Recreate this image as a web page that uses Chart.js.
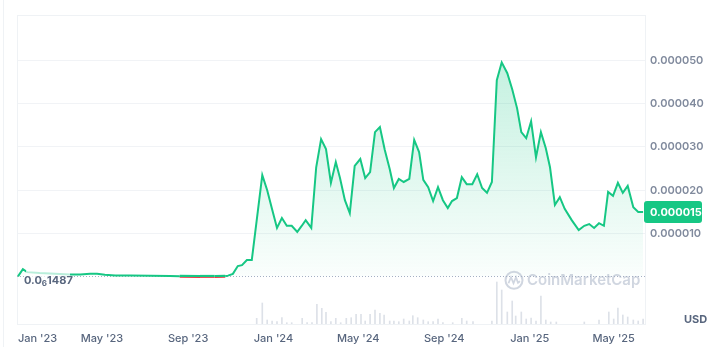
<!DOCTYPE html>
<html lang="en">
<head>
  <meta charset="UTF-8">
  <title>Price chart (USD)</title>
  <script src="https://cdn.jsdelivr.net/npm/chart.js"></script>
  <style>
    html, body { margin: 0; padding: 0; background: #fff; }
  </style>
</head>
<body>
  <canvas id="priceChart" width="723" height="347"></canvas>

  <script>
    // Price, weekly-ish closes
    const priceDates = [
      '2023-01-01', '2023-01-08', '2023-01-14', '2023-02-01', '2023-02-23', '2023-03-16', '2023-03-31',
      '2023-04-14', '2023-04-24', '2023-05-05', '2023-05-20', '2023-06-10', '2023-07-09', '2023-08-06',
      '2023-08-20', '2023-09-18', '2023-10-09', '2023-10-24', '2023-10-28', '2023-11-04', '2023-11-11',
      '2023-11-17', '2023-11-24', '2023-12-01', '2023-12-16', '2023-12-23', '2023-12-30', '2024-01-06',
      '2024-01-13', '2024-01-20', '2024-01-27', '2024-02-04', '2024-02-10', '2024-02-16', '2024-02-24',
      '2024-03-02', '2024-03-09', '2024-03-16', '2024-03-23', '2024-03-30', '2024-04-05', '2024-04-12',
      '2024-04-19', '2024-04-26', '2024-05-04', '2024-05-11', '2024-05-18', '2024-05-25', '2024-06-01',
      '2024-06-08', '2024-06-15', '2024-06-21', '2024-06-28', '2024-07-05', '2024-07-13', '2024-07-20',
      '2024-07-27', '2024-08-02', '2024-08-09', '2024-08-16', '2024-08-23', '2024-08-30', '2024-09-06',
      '2024-09-12', '2024-09-19', '2024-09-26', '2024-10-03', '2024-10-11', '2024-10-18', '2024-10-25',
      '2024-11-01', '2024-11-08', '2024-11-15', '2024-11-22', '2024-11-30', '2024-12-07', '2024-12-14',
      '2024-12-20', '2024-12-27', '2025-01-03', '2025-01-10', '2025-01-17', '2025-01-24', '2025-01-30',
      '2025-02-06', '2025-02-13', '2025-02-20', '2025-03-02', '2025-03-12', '2025-03-20', '2025-03-27',
      '2025-04-03', '2025-04-10', '2025-04-17', '2025-04-23', '2025-04-30', '2025-05-07', '2025-05-14',
      '2025-05-21', '2025-05-29', '2025-06-05', '2025-06-12'
    ];
    const priceValues = [
      0.00000013, 0.0000018, 0.0000011, 0.0000009, 0.00000075, 0.00000055, 0.00000055,
      0.00000075, 0.00000075, 0.0000005, 0.00000035, 0.0000003, 0.00000025, 0.0000002,
      0.00000013, 0.00000012, 0.00000012, 0.00000014, 0.0000003, 0.0000007, 0.0000025,
      0.0000027, 0.0000039, 0.0000039, 0.0000235, 0.00002, 0.0000156, 0.0000113,
      0.0000136, 0.0000118, 0.0000118, 0.0000104, 0.0000117, 0.0000131, 0.0000113,
      0.0000253, 0.0000318, 0.0000295, 0.0000217, 0.0000265, 0.0000228, 0.0000177,
      0.0000147, 0.0000256, 0.0000272, 0.0000228, 0.0000242, 0.0000334, 0.0000346,
      0.0000293, 0.0000249, 0.0000205, 0.0000226, 0.0000219, 0.0000226, 0.0000316,
      0.0000288, 0.0000224, 0.0000207, 0.0000175, 0.0000207, 0.0000177, 0.0000159,
      0.0000175, 0.0000182, 0.000023, 0.0000214, 0.0000214, 0.0000237, 0.0000205,
      0.0000194, 0.0000219, 0.0000454, 0.0000495, 0.000047, 0.0000433, 0.0000389,
      0.0000334, 0.000032, 0.0000359, 0.0000276, 0.0000334, 0.0000297, 0.0000253,
      0.0000166, 0.0000184, 0.0000157, 0.0000131, 0.0000108, 0.0000118, 0.0000122,
      0.0000113, 0.0000124, 0.0000118, 0.0000196, 0.0000187, 0.0000217, 0.0000194,
      0.000021, 0.0000161, 0.000015, 0.000015
    ];

    // Volume (millions USD), only the visible bars
    const volDates = [
      '2023-12-08', '2023-12-16', '2023-12-23', '2023-12-30', '2024-01-06', '2024-01-13', '2024-01-20',
      '2024-01-27', '2024-02-11', '2024-02-18', '2024-02-25', '2024-03-03', '2024-03-10', '2024-03-16',
      '2024-03-23', '2024-03-30', '2024-04-06', '2024-04-14', '2024-04-21', '2024-04-28', '2024-05-05',
      '2024-05-11', '2024-05-18', '2024-05-25', '2024-06-01', '2024-06-07', '2024-06-15', '2024-06-21',
      '2024-06-28', '2024-07-05', '2024-07-13', '2024-07-18', '2024-07-25', '2024-08-02', '2024-08-09',
      '2024-08-16', '2024-08-23', '2024-08-30', '2024-09-13', '2024-09-26', '2024-10-03', '2024-10-12',
      '2024-11-08', '2024-11-15', '2024-11-22', '2024-11-30', '2024-12-07', '2024-12-12', '2024-12-20',
      '2024-12-27', '2025-01-03', '2025-01-10', '2025-01-17', '2025-01-24', '2025-01-31', '2025-02-08',
      '2025-03-20', '2025-04-10', '2025-04-24', '2025-05-01', '2025-05-07', '2025-05-14', '2025-05-21',
      '2025-05-29', '2025-06-05', '2025-06-12'
    ];
    const volValues = [
      57, 210, 40, 30, 23, 63, 13,
      13, 57, 13, 13, 197, 157, 117,
      23, 57, 13, 57, 63, 97, 97,
      30, 97, 140, 107, 90, 30, 30,
      23, 50, 30, 83, 63, 40, 23,
      23, 50, 13, 13, 57, 30, 23,
      30, 420, 340, 120, 230, 80, 120,
      50, 60, 30, 280, 40, 20, 20,
      20, 40, 120, 50, 160, 90, 70,
      40, 30, 50
    ];

    // Reference (opening) price and axis ticks
    const baseline = 0.0000001487;
    const tickDates = ['2023-01-01', '2023-05-01', '2023-09-01', '2024-01-01', '2024-05-01', '2024-09-01', '2025-01-01', '2025-05-01'];
    const tickLabels = ["Jan '23", "May '23", "Sep '23", "Jan '24", "May '24", "Sep '24", "Jan '25", "May '25"];

    const GREEN = '#16c784';
    const RED = '#ea3943';
    const GREY_TEXT = '#58667e';

    const dayOf = s => {
      const [y, m, d] = s.split('-').map(Number);
      return (Date.UTC(y, m - 1, d) - Date.UTC(2023, 0, 1)) / 864e5;
    };
    const xMin = -1.4, xMax = 895.7;

    // décor: cadre, ligne de base, filigrane, étiquettes
    const decor = {
      id: 'decor',
      beforeDatasetsDraw(chart) {
        const { ctx, chartArea: a } = chart;
        const yb = chart.scales.y.getPixelForValue(baseline);
        ctx.save();
        ctx.strokeStyle = '#eff2f5';
        ctx.lineWidth = 1;
        ctx.strokeRect(a.left + 0.5, a.top + 0.5, a.right - a.left, a.bottom - a.top);
        ctx.beginPath();
        ctx.moveTo(3.5, 0);
        ctx.lineTo(3.5, chart.height);
        ctx.stroke();
        ctx.setLineDash([1, 2]);
        ctx.strokeStyle = '#a6b0c3';
        ctx.beginPath();
        ctx.moveTo(a.left, Math.round(yb) + 0.5);
        ctx.lineTo(a.right, Math.round(yb) + 0.5);
        ctx.stroke();
        ctx.restore();
      },
      afterDatasetsDraw(chart) {
        const { ctx, chartArea: a } = chart;
        const yScale = chart.scales.y;
        const yb = yScale.getPixelForValue(baseline);
        ctx.save();

        // watermark
        const cx = a.right - 131, cy = yb + 4;
        ctx.strokeStyle = 'rgba(170,180,198,0.55)';
        ctx.lineWidth = 2;
        ctx.beginPath();
        ctx.arc(cx, cy, 8.5, 0, Math.PI * 2);
        ctx.stroke();
        ctx.lineWidth = 1.8;
        ctx.beginPath();
        ctx.moveTo(cx - 5.5, cy + 3);
        ctx.lineTo(cx - 3, cy - 3);
        ctx.lineTo(cx - 0.5, cy + 3);
        ctx.lineTo(cx + 2, cy - 3);
        ctx.lineTo(cx + 4, cy + 2.5);
        ctx.lineTo(cx + 6, cy + 1);
        ctx.stroke();
        ctx.fillStyle = 'rgba(170,180,198,0.55)';
        ctx.font = '600 15px Inter';
        ctx.textBaseline = 'middle';
        ctx.textAlign = 'left';
        ctx.fillText('CoinMarketCap', cx + 13, cy);

        // baseline price label
        ctx.fillStyle = 'rgba(255,255,255,0.7)';
        ctx.fillRect(a.left + 9, yb - 9, 44, 21);
        ctx.fillStyle = GREY_TEXT;
        ctx.font = '700 11px Inter';
        let x = a.left + 7;
        const ly = yb + 4;
        ctx.fillText('0.0', x, ly);
        x += ctx.measureText('0.0').width;
        ctx.font = '700 8px Inter';
        ctx.fillText('6', x, ly + 3);
        x += ctx.measureText('6').width;
        ctx.font = '700 11px Inter';
        ctx.fillText('1487', x, ly);

        // last price badge
        const last = priceValues[priceValues.length - 1];
        const py = yScale.getPixelForValue(last);
        ctx.fillStyle = GREEN;
        ctx.beginPath();
        ctx.roundRect(a.right - 1, py - 11, 58, 22, 3);
        ctx.fill();
        ctx.fillStyle = '#fff';
        ctx.font = '700 11px Inter';
        ctx.fillText(last.toFixed(6), a.right + 5, py + 0.5);

        // currency
        ctx.fillStyle = GREY_TEXT;
        ctx.fillText('USD', chart.width - 39, a.bottom - 4);
        ctx.restore();
      }
    };

    // below the opening price: green stroke with a thin red edge underneath
    const belowColor = c => {
      const chart = c.chart;
      const yb = chart.scales.y.getPixelForValue(baseline);
      const g = chart.ctx.createLinearGradient(0, yb - 1.5, 0, yb + 1.5);
      g.addColorStop(0, GREEN);
      g.addColorStop(0.7, GREEN);
      g.addColorStop(0.71, RED);
      g.addColorStop(1, RED);
      return g;
    };

    const ctx = document.getElementById('priceChart').getContext('2d');
    const priceChart = new Chart(ctx, {
      data: {
        datasets: [
          {
            type: 'line',
            label: 'Price',
            order: 1,
            data: priceDates.map((d, i) => ({ x: dayOf(d), y: priceValues[i] })),
            borderColor: GREEN,
            borderWidth: 2,
            pointRadius: 0,
            tension: 0,
            segment: {
              borderColor: c => (c.p0.parsed.y < baseline && c.p1.parsed.y < baseline) ? belowColor(c) : GREEN,
              borderWidth: c => (c.p0.parsed.y < baseline && c.p1.parsed.y < baseline) ? 3 : 2
            },
            fill: { value: baseline },
            backgroundColor: c => {
              const a = c.chart.chartArea;
              if (!a) return 'transparent';
              const yb = c.chart.scales.y.getPixelForValue(baseline);
              const g = c.chart.ctx.createLinearGradient(0, a.top, 0, yb);
              g.addColorStop(0, 'rgba(22,199,132,0.30)');
              g.addColorStop(1, 'rgba(22,199,132,0.02)');
              return g;
            }
          },
          {
            type: 'bar',
            label: 'Volume',
            order: 2,
            yAxisID: 'yv',
            data: volDates.map((d, i) => ({ x: dayOf(d), y: volValues[i] })),
            backgroundColor: '#dde1e8',
            barThickness: 1
          }
        ]
      },
      options: {
        responsive: false,
        animation: false,
        layout: { padding: { left: 17, top: 15, right: 0, bottom: 0 } },
        plugins: { legend: { display: false }, tooltip: { enabled: false } },
        scales: {
          x: {
            type: 'linear',
            min: xMin,
            max: xMax,
            offset: false,
            grid: { display: false, drawTicks: false, offset: false },
            border: { display: false },
            afterBuildTicks: s => {
              s.ticks = tickDates.map(d => ({ value: dayOf(d) })).concat([{ value: xMax }]);
            },
            afterFit: s => { s.height = 23; },
            ticks: {
              autoSkip: false,
              maxRotation: 0,
              align: 'inner',
              padding: 8,
              color: GREY_TEXT,
              font: { family: 'Inter', size: 11, weight: 500 },
              callback: (v, i) => tickLabels[i] ?? ''
            }
          },
          y: {
            position: 'right',
            min: -0.00001087,
            max: 0.00006044,
            grid: {
              drawTicks: false,
              color: c => {
                const k = Math.round(c.tick.value * 1e6);
                return (k >= 10 && k <= 50 && k % 10 === 0) ? '#f1f3f6' : 'transparent';
              }
            },
            border: { display: false },
            afterFit: s => { s.width = 78; },
            ticks: {
              stepSize: 0.00001,
              autoSkip: false,
              padding: 5,
              color: '#808a9d',
              font: { family: 'Inter', size: 11, weight: 600 },
              callback: v => {
                const k = Math.round(v * 1e6);
                return (k >= 10 && k <= 50 && k % 10 === 0) ? (k / 1e6).toFixed(6) : '';
              }
            }
          },
          yv: {
            display: false,
            min: 0,
            max: 3090
          }
        }
      },
      plugins: [decor]
    });
  </script>
</body>
</html>
